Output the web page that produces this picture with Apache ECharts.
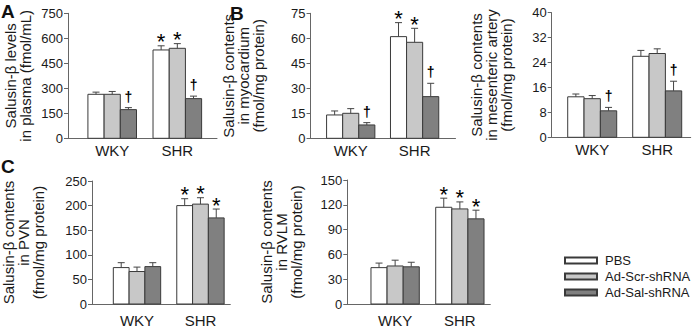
<!DOCTYPE html>
<html>
<head>
<meta charset="utf-8">
<script src="https://cdn.jsdelivr.net/npm/echarts@6/dist/echarts.min.js"></script>
<style>
  html, body { margin: 0; padding: 0; background: #fff; }
  #chart { width: 700px; height: 328px; }
</style>
</head>
<body>
<div id="chart"></div>
<script>
const groups = ["WKY", "SHR"];
const treatments = ["PBS", "Ad-Scr-shRNA", "Ad-Sal-shRNA"];
const barColors = ["#ffffff", "#c8c8c8", "#808080"];

// values are [group][treatment]
const plasmaMean = [[264, 264, 172], [530, 540, 238]];
const plasmaSem = [[13, 17, 12], [25, 28, 15]];
const plasmaMarks = [["", "", "†"], ["*", "*", "†"]];
const plasmaTicks = [0, 150, 300, 450, 600, 750];

const myoMean = [[14, 15, 8], [61, 57.6, 25]];
const myoSem = [[2.4, 2.8, 1.4], [8.4, 8.4, 8]];
const myoMarks = [["", "", "†"], ["*", "*", "†"]];
const myoTicks = [0, 15, 30, 45, 60, 75];

const mesMean = [[13, 12.4, 8.5], [26, 26.9, 14.9]];
const mesSem = [[0.9, 1, 1.1], [1.9, 1.5, 3.1]];
const mesMarks = [["", "", "†"], ["", "", "†"]];
const mesTicks = [0, 8, 16, 24, 32, 40];

const pvnMean = [[74, 66, 76], [200, 203, 175]];
const pvnSem = [[10, 9, 8], [14, 13, 18]];
const pvnMarks = [["", "", ""], ["*", "*", "*"]];
const pvnTicks = [0, 50, 100, 150, 200, 250];

const rvlmMean = [[44, 46, 45], [117, 115, 103]];
const rvlmSem = [[5.5, 7, 5.5], [11, 8.5, 10.5]];
const rvlmMarks = [["", "", ""], ["*", "*", "*"]];
const rvlmTicks = [0, 30, 60, 90, 120, 150];

const FONT = '"Liberation Sans", Arial, sans-serif';

// layout: grid box in px, group spacing in bar widths
const panels = [
  { name: "Salusin-β levels\nin plasma (fmol/mL)", mean: plasmaMean, sem: plasmaSem, marks: plasmaMarks, ticks: plasmaTicks,
    left: 68, top: 13.3, width: 149, height: 125, padL: 1.23, gap: 1.02, padR: 0.95, nameGap: 35, labelMargin: 5 },
  { name: "Salusin-β contents\nin myocardium\n(fmol/mg protein)", mean: myoMean, sem: myoSem, marks: myoMarks, ticks: myoTicks,
    left: 310.5, top: 13.3, width: 145, height: 125, padL: 1.0, gap: 0.97, padR: 1.04, nameGap: 45, labelMargin: 5 },
  { name: "Salusin-β contents\nin mesenteric artery\n(fmol/mg protein)", mean: mesMean, sem: mesSem, marks: mesMarks, ticks: mesTicks,
    left: 551.7, top: 12.7, width: 139, height: 124.6, padL: 0.98, gap: 0.98, padR: 0.55, nameGap: 38, labelMargin: 5 },
  { name: "Salusin-β contents\nin PVN\n(fmol/mg protein)", mean: pvnMean, sem: pvnSem, marks: pvnMarks, ticks: pvnTicks,
    left: 89.3, top: 181, width: 141, height: 124, padL: 1.35, gap: 1.02, padR: 0.39, nameGap: 46, labelMargin: 9 },
  { name: "Salusin-β contents\nin RVLM\n(fmol/mg protein)", mean: rvlmMean, sem: rvlmSem, marks: rvlmMarks, ticks: rvlmTicks,
    left: 347.3, top: 180, width: 143, height: 125, padL: 1.47, gap: 1.02, padR: 0.39, nameGap: 43, labelMargin: 9 },
];

const grid = [], xAxis = [], yAxis = [], series = [];

panels.forEach((p, pi) => {
  const xMax = p.padL + 6 + p.gap + p.padR;
  const barX = (gi, ti) => p.padL + gi * (3 + p.gap) + ti + 0.5;
  const centers = groups.map((g, gi) => barX(gi, 1));

  grid.push({ left: p.left, top: p.top, width: p.width, height: p.height });

  xAxis.push({
    type: "value",
    gridIndex: pi,
    min: 0,
    max: xMax,
    axisLine: { show: true, lineStyle: { color: "#666", width: 1 } },
    axisTick: { show: false },
    splitLine: { show: false },
    axisLabel: {
      customValues: centers,
      margin: p.labelMargin,
      fontSize: 15,
      fontFamily: FONT,
      color: "#1a1a1a",
      formatter: (v) => {
        const i = centers.findIndex((c) => Math.abs(c - v) < 1e-6);
        return i >= 0 ? groups[i] : "";
      },
    },
  });

  yAxis.push({
    type: "value",
    gridIndex: pi,
    min: p.ticks[0],
    max: p.ticks[p.ticks.length - 1],
    interval: p.ticks[1] - p.ticks[0],
    name: p.name,
    nameLocation: "middle",
    nameRotate: 90,
    nameGap: p.nameGap,
    nameTextStyle: { fontSize: 15, lineHeight: 15, fontFamily: FONT, color: "#1a1a1a" },
    axisLine: { show: true, lineStyle: { color: "#666", width: 1 } },
    axisTick: { show: true, inside: false, length: 4, lineStyle: { color: "#666" } },
    splitLine: { show: false },
    axisLabel: { fontSize: 13, fontFamily: FONT, color: "#1a1a1a", margin: 5 },
  });

  treatments.forEach((t, ti) => {
    series.push({
      name: t,
      type: "custom",
      xAxisIndex: pi,
      yAxisIndex: pi,
      clip: false,
      itemStyle: { color: barColors[ti], borderColor: "#3a3a3a", borderWidth: 1 },
      encode: { x: 0, y: 1 },
      data: groups.map((g, gi) => [barX(gi, ti), p.mean[gi][ti], p.sem[gi][ti]]),
      renderItem: (params, api) => {
        const x = api.value(0), y = api.value(1), e = api.value(2);
        const base = api.coord([x - 0.5, 0]);
        const top = api.coord([x + 0.5, y]);
        const cap = api.coord([x, y + e]);
        const mark = p.marks[params.dataIndex][ti];
        const children = [
          { type: "rect",
            shape: { x: base[0], y: top[1], width: top[0] - base[0], height: base[1] - top[1] },
            style: { fill: barColors[ti], stroke: "#3a3a3a", lineWidth: 1 } },
          { type: "line",
            shape: { x1: cap[0], y1: top[1], x2: cap[0], y2: cap[1] },
            style: { stroke: "#444", lineWidth: 1 } },
          { type: "line",
            shape: { x1: cap[0] - 3.5, y1: cap[1], x2: cap[0] + 3.5, y2: cap[1] },
            style: { stroke: "#444", lineWidth: 1 } },
        ];
        if (mark) {
          const star = mark === "*";
          children.push({
            type: "text",
            x: cap[0],
            y: cap[1] - (star ? 4 : 11),
            style: {
              text: mark,
              fill: "#000",
              font: star ? "22px " + FONT : "bold 14px " + FONT,
              textAlign: "center",
              textVerticalAlign: "middle",
            },
          });
        }
        return { type: "group", children };
      },
    });
  });
});

const chart = echarts.init(document.getElementById("chart"), null, { renderer: "svg" });
chart.setOption({
  animation: false,
  backgroundColor: "#fff",
  title: [
    { text: "A", left: 1, top: 2 },
    { text: "B", left: 230, top: 4 },
    { text: "C", left: 1, top: 157 },
  ].map((t) => ({ ...t, padding: 0, textStyle: { fontSize: 19, fontWeight: "bold", fontFamily: FONT, color: "#111" } })),
  legend: {
    data: treatments,
    orient: "vertical",
    left: 559,
    top: 249,
    itemWidth: 32,
    itemHeight: 6,
    itemGap: 3,
    icon: "rect",
    selectedMode: false,
    textStyle: { fontSize: 13, fontFamily: FONT, color: "#1a1a1a", padding: [0, 0, 0, 3] },
  },
  grid,
  xAxis,
  yAxis,
  series,
});

window.addEventListener("resize", () => chart.resize());
</script>
</body>
</html>
